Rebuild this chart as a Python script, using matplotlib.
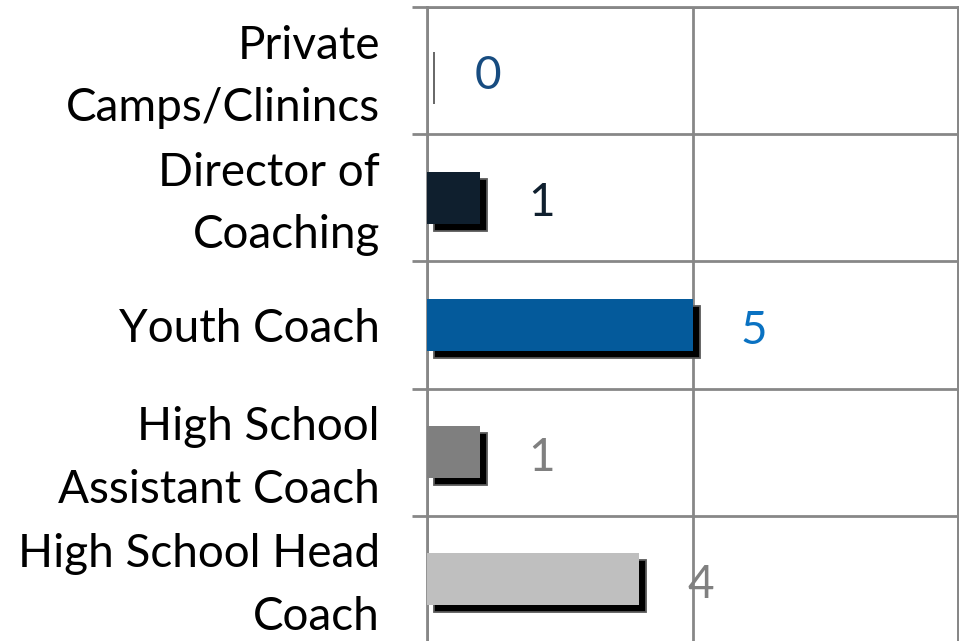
import matplotlib
matplotlib.use("Agg")
import matplotlib.pyplot as plt
from matplotlib.transforms import ScaledTranslation

plt.rcParams['font.family'] = ['Lato', 'DejaVu Sans']

categories = ["Private\nCamps/Clinincs", "Director of\nCoaching", "Youth Coach",
              "High School\nAssistant Coach", "High School Head\nCoach"]
values = [0, 1, 5, 1, 4]
bar_colors = ["#1F4E79", "#0F1F2E", "#045A9B", "#7F7F7F", "#BFBFBF"]
label_colors = ["#174C80", "#10202F", "#0A72C2", "#808080", "#808080"]

W, H = 959, 641
fig = plt.figure(figsize=(W/100, H/100), dpi=100)
ax = fig.add_axes([427/W, (H-643)/H, (958-427)/W, (643-7)/H])

ypos = list(range(len(categories)))
grid_c = "#878787"

# shadow bars
shadow_tr = ax.transData + ScaledTranslation(7/100, -7/100, fig.dpi_scale_trans)
ax.barh(ypos, values, height=0.41, color="black", edgecolor="#5a5a5a",
        linewidth=1.3, transform=shadow_tr, zorder=2)
# main bars
ax.barh(ypos, values, height=0.41, color=bar_colors, linewidth=0, zorder=3)

ax.set_xlim(0, 10)
ax.set_ylim(len(categories)-0.5, -0.5)

ax.set_xticks([0, 5, 10])
ax.set_xticklabels([])
ax.tick_params(axis='x', length=0)
ax.xaxis.grid(True, color=grid_c, linewidth=2, zorder=1)

ax.set_yticks(ypos)
ax.set_yticklabels(categories, fontsize=33, linespacing=1.6, ha='right')
ax.tick_params(axis='y', which='major', length=0, pad=34)
ax.set_yticks([i + 0.5 for i in range(-1, len(categories))], minor=True)
ax.tick_params(axis='y', which='minor', length=11, width=2, color=grid_c, direction='out')
ax.yaxis.grid(True, which='minor', color=grid_c, linewidth=2, zorder=1)
ax.set_axisbelow(True)

for lab in ax.get_yticklabels():
    if "\n" in lab.get_text():
        lab.set_transform(lab.get_transform() + ScaledTranslation(0, 8/100, fig.dpi_scale_trans))

for s in ax.spines.values():
    s.set_color(grid_c)
    s.set_linewidth(2)

for y, v, c in zip(ypos, values, label_colors):
    ax.annotate(str(v), xy=(v, y), xytext=(44, -4), textcoords='offset points',
                ha='center', va='center', fontsize=33, color=c, zorder=5)

fig.savefig("out.png", dpi=100)
